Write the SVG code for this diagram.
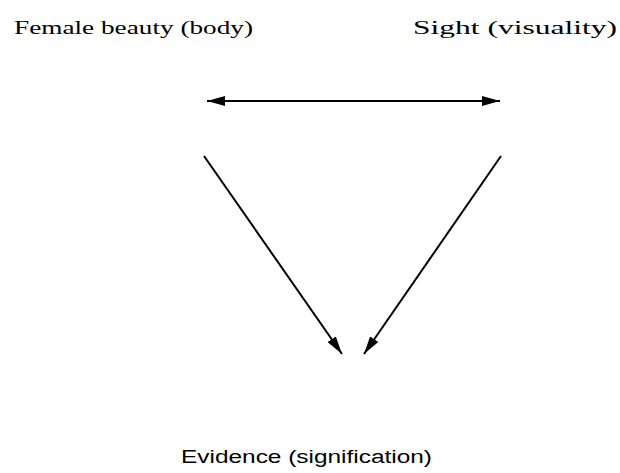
<svg xmlns="http://www.w3.org/2000/svg" width="620" height="473" viewBox="0 0 620 473">
<style>
.t{font-family:"Liberation Serif","DejaVu Serif","Times New Roman",serif;font-size:18px;fill:#000}
.b{font-family:"Liberation Sans",Arial,sans-serif;font-size:18px;fill:#000}
.c{stroke:#000;stroke-width:2;fill:none}
</style>
<defs>
<marker id="ad" viewBox="0 0 18 10" refX="18" refY="5" markerWidth="18" markerHeight="10" markerUnits="userSpaceOnUse" orient="auto-start-reverse">
<path d="M0,0 L18,5 L0,10 Z" fill="#000"/>
</marker>
</defs>
<g id="n1"><text class="t" x="14" y="34" textLength="239" lengthAdjust="spacingAndGlyphs">Female beauty (body)</text></g>
<g id="n2"><text class="t" x="413" y="34" textLength="204" lengthAdjust="spacingAndGlyphs">Sight (visuality)</text></g>
<g id="n3"><text class="b" x="181" y="463" textLength="251" lengthAdjust="spacingAndGlyphs">Evidence (signification)</text></g>
<g id="edges">
<line class="c" x1="207" y1="101" x2="500" y2="101" stroke-width="2.5" marker-start="url(#ad)" marker-end="url(#ad)"/>
<line class="c" x1="204" y1="156" x2="342" y2="354" marker-end="url(#ad)"/>
<line class="c" x1="501" y1="156" x2="364" y2="354" marker-end="url(#ad)"/>
</g>
</svg>
